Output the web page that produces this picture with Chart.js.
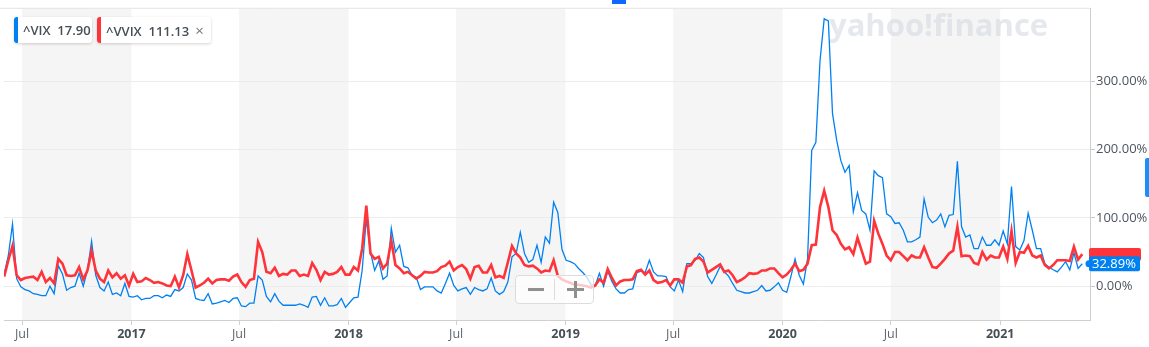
<!DOCTYPE html>
<html>
<head>
<meta charset="utf-8">
<script src="https://cdn.jsdelivr.net/npm/chart.js@4"></script>
<style>
  html, body { margin: 0; padding: 0; background: #fff; }
  #wrap { position: relative; width: 1149px; height: 347px; overflow: hidden; font-family: "Open Sans", sans-serif; }
  canvas { position: absolute; left: 0; top: 0; }
  .chip { position: absolute; top: 17px; height: 26px; background: #fff; border-radius: 3px;
          box-shadow: 0 1px 3px rgba(0,0,0,0.18); font-size: 13px; font-weight: 600; color: #464e56;
          line-height: 26px; box-sizing: border-box; padding-left: 9px; white-space: nowrap; }
  .chip .bar { position: absolute; left: 0; top: 0; width: 4px; height: 26px; border-radius: 3px 0 0 3px; }
  .chip .x { font-weight: 400; color: #777; margin-left: 6px; font-size: 15px; }
  #zoomBox { position: absolute; left: 515px; top: 275px; width: 79px; height: 29px; box-sizing: border-box;
             border: 1px solid #dcdcdc; border-radius: 4px; background: rgba(255,255,255,0.72); }
  #zoomBox .div { position: absolute; left: 38px; top: 3px; width: 1px; height: 21px; background: #ddd; }
  .g { position: absolute; background: #8f8f8f; }
</style>
</head>
<body>
<div id="wrap">
  <canvas id="chartVix" width="1149" height="347"></canvas>
  <div class="chip" style="left:14px;width:78px;"><span class="bar" style="background:#0081f2"></span>^VIX&nbsp; 17.90</div>
  <div class="chip" style="left:97px;width:114px;"><span class="bar" style="background:#ff333a"></span>^VVIX&nbsp; 111.13<span class="x">×</span></div>
  <div id="zoomBox">
    <div class="g" style="left:12px;top:12px;width:16px;height:3px;"></div>
    <div class="div"></div>
    <div class="g" style="left:51px;top:12px;width:17px;height:3px;"></div>
    <div class="g" style="left:58px;top:5px;width:3px;height:17px;"></div>
  </div>
  <div style="position:absolute;left:612px;top:0;width:14px;height:4px;background:#0f69ff;"></div>
  <div style="position:absolute;left:1145px;top:158px;width:4px;height:39px;background:#188fff;border-radius:2px 0 0 2px;"></div>
</div>
<script>
// weekly closes, % change; first week starts early June 2016 (days counted from 2016-01-01)
const startDay = 152;
const stepDays = 7;

const vixValues = [
  18, 45, 91, 11, -1, -5, -7, -11, -12, -14, -14, 0, -11, 30, 18, -6, -2, 0, 19, 0,
  23, 66, 16, -2, -7, 6, -12, -10, -14, 4, -15, -16, -14, -20, -18, -18, -14, -14, -17, -13,
  -15, -5, -7, -2, 18, 9, -18, -20, -21, -11, -26, -25,
  -23, -21, -24, -18, -17, -29, -30, -25, -25, 15, 9, -15, -23, -11, -22, -28, -28, -28,
  -28, -26, -28, -31, -16, -15, -28, -17, -29, -29, -27, -18, -31, -24, -17, -16, 23, 99,
  50, 23, 37, 10, 15, 85, 50, 60, 29, 27, 16, 13, -5, -1,
  -1, -1, -7, -10, 4, 19, 1, -7, -4, -2, -12, -2, -5, -7, -4, 12, -7, -12, -8, 6,
  43, 48, 79, 48, 35, 39, 60, 35, 72, 63, 123, 108, 54, 38, 36, 33, 26, 20, 13, 2,
  1, 19, 0, 22, 7, -4, -10, -10, -5, -4, 20, 22,
  20, 38, 21, 15, 15, 14, -1, -7, 9, -8, 33, 33, 38, 48, 42, 14, 4, 16, 29, 21,
  15, 4, -6, -8, -10, -10, -8, -6, 1, -7, -6, -1,
  5, -6, -9, 14, 40, 16, 3, 40,
  199, 211, 331, 392, 389, 253, 214, 184, 167, 177, 109, 137, 111, 106, 82, 169, 162, 159, 106, 102,
  92, 93, 82, 65, 65, 68, 72, 128, 101, 93, 97, 106, 87, 104, 105, 183, 87, 72, 75, 55,
  55, 72, 60, 60, 68, 60, 81, 62, 146, 58, 53, 67, 107, 82, 55, 55, 33, 28, 24, 21,
  28, 36, 24, 49, 26, 32.89
];

const vvixValues = [
  14, 38, 59, 16, 9, 12, 13, 14, 9, 21, 6, 12, 4, 40, 33, 16, 15, 16, 28, 10,
  23, 52, 23, 11, 6, 23, 13, 19, 11, 16, 1, 18, 6, 7, 12, 9, 5, 6, 4, 1,
  0, 14, -2, 16, 47, 23, -2, 1, 5, 11, 4, 9,
  10, 10, 8, 14, 17, 6, -1, 9, 11, 65, 50, 21, 19, 27, 15, 18, 17, 23,
  23, 15, 17, 15, 34, 24, 9, 21, 17, 18, 21, 28, 17, 17, 28, 23, 55, 118,
  48, 40, 43, 26, 33, 67, 31, 26, 19, 21, 16, 11, 15, 21,
  20, 20, 22, 28, 30, 36, 23, 28, 31, 25, 11, 28, 30, 20, 20, 31, 13, 15, 12, 35,
  59, 48, 42, 31, 29, 30, 26, 20, 23, 22, 38, 15, 10, 7, 5, 2, 2, 1, 0, -2,
  1, 10, 5, 25, 12, 1, 7, 9, 9, 10, 22, 24,
  17, 23, 9, 5, 6, 9, 1, 10, 10, 5, 29, 31, 40, 42, 36, 20, 24, 28, 32, 21,
  23, 16, 6, 9, 13, 19, 18, 19, 23, 23, 26, 26,
  19, 13, 17, 24, 33, 22, 24, 33,
  60, 61, 116, 140, 116, 82, 75, 62, 54, 57, 47, 71, 52, 33, 36, 96, 77, 62, 45, 38,
  50, 50, 44, 38, 45, 42, 42, 57, 42, 28, 27, 33, 40, 48, 52, 87, 44, 45, 44, 34,
  32, 50, 39, 45, 42, 42, 58, 40, 81, 34, 50, 49, 59, 45, 42, 45, 31, 26, 31, 38,
  38, 38, 37, 58, 39, 47
];

// Jul / Jan tick positions (days from 2016-01-01)
const tickDays = [182, 366, 547, 731, 912, 1096, 1277, 1461, 1643, 1827];
const tickLabels = ['Jul', '2017', 'Jul', '2018', 'Jul', '2019', 'Jul', '2020', 'Jul', '2021'];
// shaded second halves of each year
const bandStarts = [182, 547, 912, 1277, 1643];
const bandEnds = [366, 731, 1096, 1461, 1827];
const yTicks = [0, 100, 200, 300];

const vixColor = '#0081f2';
const vvixColor = '#ff333a';

function toPoints(values) {
    return values.map((v, i) => ({x: startDay + i * stepDays, y: v}));
}

const bgPlugin = {
    id: 'bg',
    beforeDraw(chart) {
        const {ctx, chartArea, scales} = chart;
        ctx.save();
        ctx.fillStyle = '#f5f5f5';
        for (let i = 0; i < bandStarts.length; i++) {
            const a = scales.x.getPixelForValue(bandStarts[i]);
            const b = scales.x.getPixelForValue(bandEnds[i]);
            ctx.fillRect(a, chartArea.top, b - a, chartArea.bottom - chartArea.top);
        }
        ctx.strokeStyle = '#e3e3e3';
        ctx.lineWidth = 1;
        ctx.beginPath();
        ctx.moveTo(0, chartArea.top - 0.5);
        ctx.lineTo(chartArea.right, chartArea.top - 0.5);
        ctx.stroke();
        ctx.restore();
    },
    beforeDatasetsDraw(chart) {
        // watermark
        const {ctx} = chart;
        ctx.save();
        ctx.fillStyle = 'rgba(212,217,224,0.6)';
        ctx.font = 'bold 31px "Open Sans", sans-serif';
        ctx.textBaseline = 'alphabetic';
        ctx.fillText('yahoo!finance', 829, 36);
        ctx.restore();
    },
    afterDraw(chart) {
        // last value labels on the right axis
        const {ctx, scales, chartArea} = chart;
        const x0 = chartArea.right - 1;
        const yR = scales.y.getPixelForValue(vvixValues[vvixValues.length - 1]);
        const yB = scales.y.getPixelForValue(vixValues[vixValues.length - 1]);
        ctx.save();
        ctx.fillStyle = vvixColor;
        ctx.beginPath();
        ctx.roundRect(x0, yR - 6, 52, 13, 2);
        ctx.fill();
        ctx.fillStyle = vixColor;
        ctx.beginPath();
        ctx.roundRect(x0, yB - 7.5, 51, 15, 2);
        ctx.fill();
        ctx.beginPath();
        ctx.arc(x0, yB, 3.5, 0, Math.PI * 2);
        ctx.fill();
        ctx.fillStyle = '#fff';
        ctx.font = '13px "Open Sans", sans-serif';
        ctx.textBaseline = 'middle';
        ctx.fillText(vixValues[vixValues.length - 1].toFixed(2) + '%', x0 + 3, yB + 0.5);
        ctx.restore();
    }
};

const ctxVix = document.getElementById('chartVix').getContext('2d');
const chartVix = new Chart(ctxVix, {
    type: 'line',
    data: {
        datasets: [
            {
                label: '^VIX',
                data: toPoints(vixValues),
                borderColor: vixColor,
                borderWidth: 1.3,
                pointRadius: 0,
                tension: 0,
                order: 1,
            },
            {
                label: '^VVIX',
                data: toPoints(vvixValues),
                borderColor: vvixColor,
                borderWidth: 2.6,
                pointRadius: 0,
                tension: 0,
                order: 0,
            },
        ],
    },
    options: {
        responsive: false,
        animation: false,
        layout: {padding: {left: 4, top: 7, right: 0, bottom: 0}},
        plugins: {
            legend: {display: false},
            tooltip: {enabled: false},
        },
        scales: {
            x: {
                type: 'linear',
                min: 151.7,
                max: 1978,
                afterBuildTicks: (scale) => { scale.ticks = tickDays.map(d => ({value: d})); },
                afterFit: (scale) => { scale.height = 27; },
                border: {display: true, color: '#cfcfcf'},
                grid: {drawOnChartArea: false, drawTicks: true, tickLength: 5, tickColor: '#cfcfcf'},
                ticks: {
                    autoSkip: false,
                    maxRotation: 0,
                    padding: 2,
                    callback: (v, i) => tickLabels[i],
                    color: (c) => c.index % 2 === 1 ? '#464e56' : '#5f6670',
                    font: (c) => ({family: '"Open Sans", sans-serif', size: 12.5, weight: c.index % 2 === 1 ? 'bold' : 'normal'}),
                },
            },
            y: {
                type: 'linear',
                position: 'right',
                min: -49.6,
                max: 406.7,
                afterBuildTicks: (scale) => { scale.ticks = yTicks.map(v => ({value: v})); },
                afterFit: (scale) => { scale.width = 59; },
                border: {display: true, color: '#cfcfcf'},
                grid: {color: '#ececec', tickLength: 5, tickColor: '#c8c8c8'},
                ticks: {
                    padding: 1,
                    color: '#4d5560',
                    font: {family: '"Open Sans", sans-serif', size: 13},
                    callback: (v) => v.toFixed(2) + '%',
                },
            },
        },
    },
    plugins: [bgPlugin],
});
</script>
</body>
</html>
